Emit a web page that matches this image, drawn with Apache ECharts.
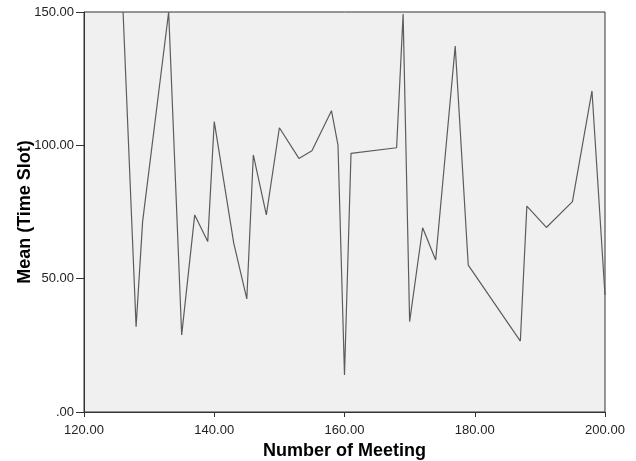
<!DOCTYPE html>
<html>
<head>
<meta charset="utf-8">
<script src="https://cdn.jsdelivr.net/npm/echarts@6/dist/echarts.min.js"></script>
<style>html,body{margin:0;padding:0;background:#fff;}#c{width:636px;height:461px;}</style>
</head>
<body>
<div id="c"></div>
<script>
var meetings = [126,128,129,133,135,137,139,140,143,145,146,148,150,153,155,158,159,160,161,168,169,170,172,174,177,179,187,188,191,195,198,200];
var meanSlot = [150,32,71.4,150,28.9,73.9,63.9,108.9,63.2,42.4,96.4,73.9,106.6,95.1,98,113,100.1,13.9,97,99.1,149.2,33.9,69.1,57,137.2,55.1,26.6,77.2,69.2,78.9,120.4,43.9];
var xTicks = {min:120, max:200, step:20};
var yTicks = {min:0, max:150, step:50};

function fmt(v){ var s = v.toFixed(2); return s.indexOf('0.') === 0 ? s.slice(1) : s; }

var chart = echarts.init(document.getElementById('c'), null, {renderer:'canvas'});
chart.setOption({
  animation:false,
  backgroundColor:'#ffffff',
  grid:{left:84, right:31, top:12, bottom:49, containLabel:false, outerBoundsMode:'none', show:true, backgroundColor:'#f0f0f0', borderColor:'#333', borderWidth:1},
  xAxis:{
    type:'value', min:xTicks.min, max:xTicks.max, interval:xTicks.step,
    name:'Number of Meeting', nameLocation:'middle', nameGap:30, nameMoveOverlap:false,
    nameTextStyle:{fontFamily:'Liberation Sans', fontSize:18, fontWeight:'bold', color:'#000'},
    axisLine:{show:true, lineStyle:{color:'#333', width:1}},
    axisTick:{show:true, length:5, lineStyle:{color:'#333'}},
    axisLabel:{formatter:fmt, fontFamily:'Liberation Sans', fontSize:13, color:'#222', margin:12},
    splitLine:{show:false}
  },
  yAxis:{
    type:'value', min:yTicks.min, max:yTicks.max, interval:yTicks.step,
    name:'Mean (Time Slot)', nameLocation:'middle', nameGap:50, nameMoveOverlap:false,
    nameTextStyle:{fontFamily:'Liberation Sans', fontSize:18, fontWeight:'bold', color:'#000'},
    axisLine:{show:true, lineStyle:{color:'#333', width:1}},
    axisTick:{show:true, length:8, lineStyle:{color:'#333'}},
    axisLabel:{formatter:fmt, fontFamily:'Liberation Sans', fontSize:13, color:'#222', margin:10},
    splitLine:{show:false}
  },
  series:[{
    type:'line',
    data:meetings.map(function(m,i){return [m, meanSlot[i]];}),
    showSymbol:false, symbol:'none',
    lineStyle:{color:'#5c5c5c', width:1.2},
    clip:true
  }]
});
</script>
</body>
</html>
